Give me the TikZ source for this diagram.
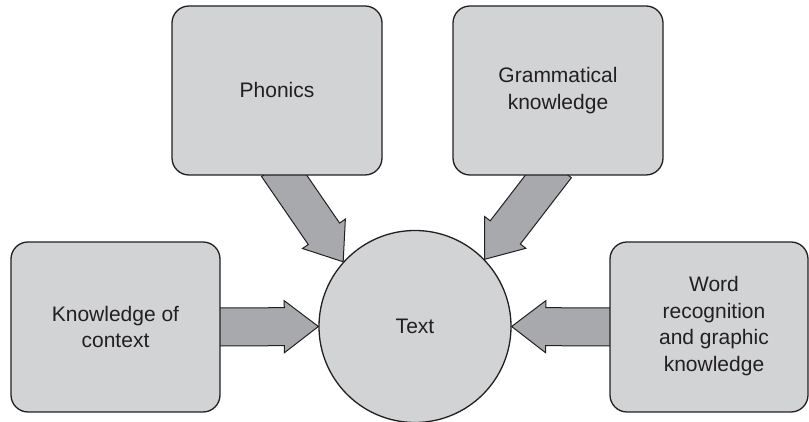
\documentclass[tikz,border=0pt]{standalone}
\usepackage{fontspec}
\setmainfont{Liberation Sans}
\usetikzlibrary{calc,backgrounds}
\definecolor{boxfill}{RGB}{209,211,212}
\definecolor{arrowfill}{RGB}{167,169,172}
\definecolor{ink}{RGB}{35,31,32}
\newcommand\fatarrow[3]{% #1 prefix, #2 start, #3 tip
  \coordinate (#1s) at ($(#2)!-12pt!(#3)$);
  \coordinate (#1b) at ($(#3)!34pt!(#2)$);
  \filldraw[arrowsty] ($(#1s)!19pt!-90:(#3)$) -- ($(#1b)!19pt!-90:(#3)$)
    -- ($(#1b)!26pt!-90:(#3)$) -- (#3) -- ($(#1b)!26pt!90:(#3)$)
    -- ($(#1b)!19pt!90:(#3)$) -- ($(#1s)!19pt!90:(#3)$) -- cycle;
}
\begin{document}
\begin{tikzpicture}[x=1pt,y=1pt,
  box/.style={draw=ink, line width=1.3pt, fill=boxfill, rounded corners=17pt,
    inner sep=0pt, align=center, text=ink, font=\fontsize{21}{26.7}\selectfont},
  circ/.style={draw=ink, line width=1.3pt, fill=boxfill, circle, inner sep=0pt,
    minimum size=192pt, text=ink, font=\fontsize{21}{26.7}\selectfont},
  lbl/.style={align=center, text=ink, inner sep=0pt, font=\fontsize{21}{26.7}\selectfont},
  arrowsty/.style={draw=ink, line width=1pt, fill=arrowfill, line join=miter}]
\useasboundingbox (0,0) rectangle (809,422);
\node[box, minimum width=210pt, minimum height=169pt] (phon) at (277,331.5) {Phonics};
\node[box, minimum width=210pt, minimum height=169pt] (gram) at (558,331.5) {Grammatical\\knowledge};
\node[box, minimum width=209pt, minimum height=170pt] (ctx) at (115.5,95) {Knowledge of\\context};
\node[box, minimum width=198pt, minimum height=170pt] (word) at (709,95) {};
\node[lbl] (wordtxt) at (714,96) {Word\\recognition\\and graphic\\knowledge};
\node[circ] (text) at (415,95.5) {Text};
\coordinate (ps) at ($(phon.south)+(7,0)$);
\coordinate (pt) at (text.138.3);
\coordinate (gs) at ($(gram.south)+(-9,0)$);
\coordinate (gt) at (text.44.2);
\coordinate (cs) at (ctx.east);
\coordinate (ct) at (text.west);
\coordinate (ws) at (word.west);
\coordinate (wt) at (text.east);
\begin{pgfonlayer}{background}
\fatarrow{pa}{ps}{pt}
\fatarrow{ga}{gs}{gt}
\fatarrow{ca}{cs}{ct}
\fatarrow{wa}{ws}{wt}
\end{pgfonlayer}
\end{tikzpicture}
\end{document}
